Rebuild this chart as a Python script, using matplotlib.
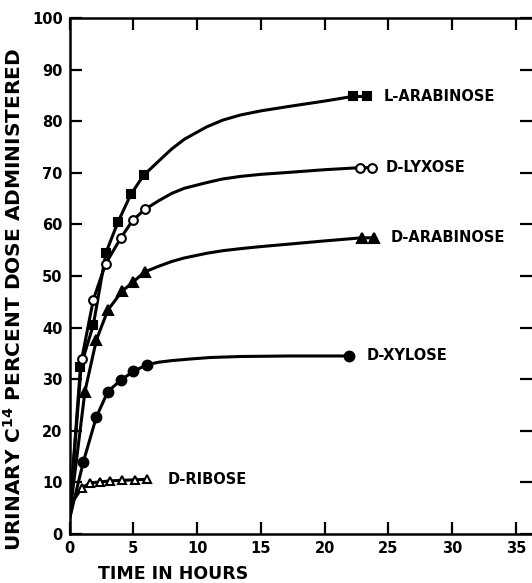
import numpy as np
import matplotlib
matplotlib.use('Agg')
import matplotlib.pyplot as plt

plt.rcParams['font.family'] = 'DejaVu Sans'
plt.rcParams['font.weight'] = 'bold'
plt.rcParams['mathtext.default'] = 'bf'

# measured points (hours, percent dose)
l_arab_t = [0.85, 1.86, 2.85, 3.8, 4.8, 5.8, 22.2, 23.3]
l_arab_y = [32.3, 40.5, 54.5, 60.5, 65.8, 69.5, 84.8, 84.8]
lyx_t = [0.95, 1.86, 2.83, 4.0, 4.95, 5.9, 22.8, 23.7]
lyx_y = [33.9, 45.4, 52.4, 57.3, 60.8, 62.9, 71.0, 71.0]
d_arab_t = [1.2, 2.1, 3.0, 4.1, 5.0, 5.9, 22.9, 23.9]
d_arab_y = [27.6, 37.6, 43.4, 47.0, 48.9, 50.8, 57.4, 57.4]
xyl_t = [1.08, 2.1, 3.0, 4.0, 5.0, 6.05, 21.9]
xyl_y = [14.0, 22.7, 27.6, 29.8, 31.5, 32.8, 34.5]
rib_t = [0.95, 1.6, 2.4, 3.2, 4.1, 5.1, 6.05]
rib_y = [8.9, 9.9, 10.1, 10.3, 10.4, 10.5, 10.6]

# curve traces (between the markers)
l_arab_ct = [0.0, 7.0, 8.0, 9.0, 10.75, 12.0, 13.4, 15.0, 17.3, 20.0]
l_arab_cy = [4.0, 72.3, 74.6, 76.5, 78.9, 80.2, 81.2, 82.0, 82.9, 83.9]
lyx_ct = [0.0, 7.0, 8.0, 9.0, 10.75, 12.0, 13.4, 15.0, 17.3, 20.0]
lyx_cy = [4.0, 64.6, 66.0, 67.0, 68.1, 68.8, 69.3, 69.7, 70.1, 70.6]
d_arab_ct = [0.0, 7.0, 8.0, 9.0, 10.75, 12.0, 13.4, 15.0, 17.3, 20.0]
d_arab_cy = [3.5, 51.9, 52.8, 53.5, 54.4, 54.9, 55.3, 55.7, 56.2, 56.8]
xyl_ct = [0.0, 7.0, 8.0, 9.4, 11.0, 13.4, 17.3]
xyl_cy = [3.0, 33.3, 33.6, 33.9, 34.2, 34.4, 34.5]
rib_ct = [0.0, 0.3]
rib_cy = [3.0, 6.5]

labels = ['L-ARABINOSE', 'D-LYXOSE', 'D-ARABINOSE', 'D-XYLOSE', 'D-RIBOSE']
label_x = [24.6, 24.8, 25.2, 23.3, 7.7]
label_y = [84.8, 71.0, 57.4, 34.5, 10.6]

fig = plt.figure(figsize=(5.32, 5.83), dpi=100)
ax = fig.add_axes([69.6 / 532, 1 - 534 / 583, 1 - 69.6 / 532, (534 - 18) / 583])

series = [
    (l_arab_t, l_arab_y, l_arab_ct, l_arab_cy, 's', 'black', 6),
    (lyx_t, lyx_y, lyx_ct, lyx_cy, 'o', 'white', 6.3),
    (d_arab_t, d_arab_y, d_arab_ct, d_arab_cy, '^', 'black', 7),
    (xyl_t, xyl_y, xyl_ct, xyl_cy, 'o', 'black', 7),
    (rib_t, rib_y, rib_ct, rib_cy, '^', 'white', 6.3),
]

for t, y, ct, cy, mk, fc, ms in series:
    line_t = np.array(list(t) + list(ct))
    line_y = np.array(list(y) + list(cy))
    order = np.argsort(line_t)
    ax.plot(line_t[order], line_y[order], color='black', lw=2.2, zorder=2)
    ax.plot(t, y, linestyle='none', marker=mk, markersize=ms,
            markerfacecolor=fc, markeredgecolor='black', markeredgewidth=1.5, zorder=3)

for lab, lx, ly in zip(labels, label_x, label_y):
    ax.text(lx, ly, lab, fontsize=10.5, fontweight='bold', va='center', ha='left')

ax.set_xlim(0, (532 - 69.6) / 12.75)
ax.set_ylim(0, 100)
ax.set_xticks(np.arange(0, 40, 5))
ax.set_yticks(np.arange(0, 110, 10))
ax.tick_params(direction='in', length=8.5, width=1.6, labelsize=10.5,
               top=True, right=True, pad=5)
for lbl in ax.get_xticklabels() + ax.get_yticklabels():
    lbl.set_fontweight('bold')
for s in ax.spines.values():
    s.set_linewidth(1.8)
ax.spines['right'].set_visible(False)

ax.set_xlabel('TIME IN HOURS', fontsize=12.5, fontweight='bold')
ax.xaxis.set_label_coords(0.224, -0.060)
ax.set_ylabel(r'URINARY C$^{14}$ PERCENT DOSE ADMINISTERED', fontsize=14.5,
              fontweight='bold')
ax.yaxis.set_label_coords(-0.097, 0.455)

fig.savefig('out.png', dpi=100)
